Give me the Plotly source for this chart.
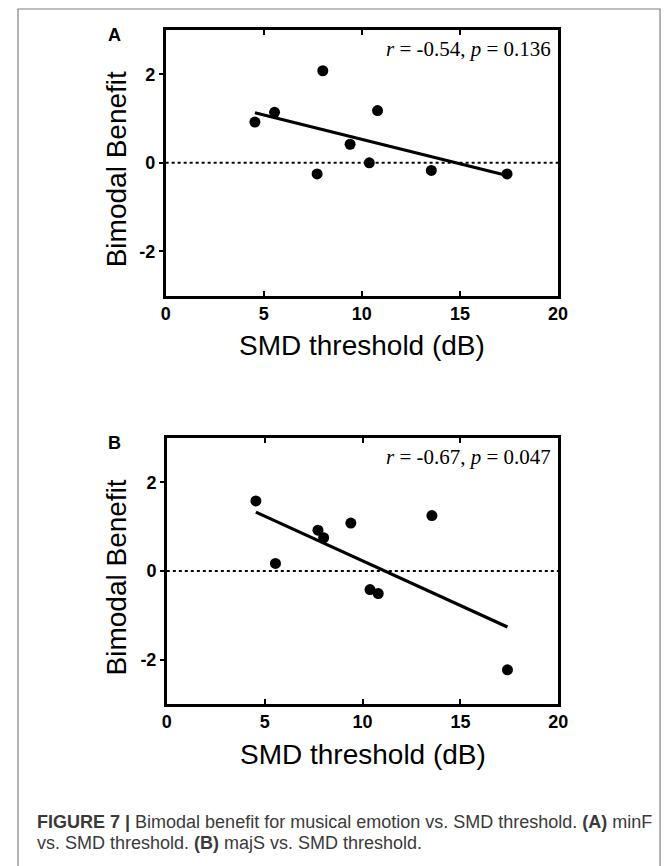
import numpy as np
import plotly.graph_objects as go

# SMD threshold (dB) per listener and bimodal benefit for two emotion conditions
smd_threshold = [4.55, 5.55, 7.72, 8.01, 9.40, 10.38, 10.80, 13.54, 17.40]
benefit_minF = [0.92, 1.14, -0.25, 2.08, 0.42, 0.00, 1.18, -0.17, -0.25]
benefit_majS = [1.58, 0.17, 0.92, 0.75, 1.08, -0.42, -0.51, 1.25, -2.23]

panel_letters = ["A", "B"]
stats_text = ["<i>r</i> = -0.54, <i>p</i> = 0.136", "<i>r</i> = -0.67, <i>p</i> = 0.047"]
x_ticks = [0, 5, 10, 15, 20]
x_tick_text = ["0", "5", "10", "15", "20"]
y_ticks = [-2, 0, 2]
y_tick_text = ["-2", "0", "2"]

W, H = 672, 866
SANS = "Liberation Sans, Arial, sans-serif"
SERIF = "Liberation Serif, Times New Roman, serif"

# panel boxes in pixels: (left, right, top, bottom)
boxes = [(164.3, 565.7, 30.0, 295.7), (165.5, 566.0, 438.0, 704.0)]


def px_x(v):
    return v / W


def px_y(v):
    return 1 - v / H


def bold(labels):
    return [f"<b>{s}</b>" for s in labels]


fig = go.Figure()
series = [benefit_minF, benefit_majS]
axes = {}

for i, (yvals, box) in enumerate(zip(series, boxes)):
    l, r, t, b = box
    xa = "x" if i == 0 else f"x{i + 1}"
    ya = "y" if i == 0 else f"y{i * 2 + 1}"
    xa_key = "xaxis" if i == 0 else f"xaxis{i + 1}"
    ya_key = "yaxis" if i == 0 else f"yaxis{i * 2 + 1}"
    ya_right_key = f"yaxis{i * 2 + 2}"

    x = np.array(smd_threshold)
    y = np.array(yvals)
    slope, intercept = np.polyfit(x, y, 1)
    xl = np.array([x.min(), x.max()])

    fig.add_trace(go.Scatter(x=[0, 20], y=[0, 0], mode="lines",
                             line=dict(color="black", width=2, dash="dot"),
                             xaxis=xa, yaxis=ya, showlegend=False, hoverinfo="skip"))
    fig.add_trace(go.Scatter(x=xl, y=slope * xl + intercept, mode="lines",
                             line=dict(color="black", width=3.2),
                             xaxis=xa, yaxis=ya, showlegend=False))
    fig.add_trace(go.Scatter(x=x, y=y, mode="markers",
                             marker=dict(color="black", size=11),
                             xaxis=xa, yaxis=ya, showlegend=False))

    tick_font = dict(family=SANS, size=18, color="black")
    axes[xa_key] = dict(
        domain=[px_x(l), px_x(r)], anchor=ya, range=[0, 20],
        tickmode="array", tickvals=x_ticks, ticktext=bold(x_tick_text),
        ticks="inside", ticklen=5, tickwidth=2, tickcolor="black",
        showline=True, linewidth=2.6, linecolor="black", mirror="ticks",
        showgrid=False, zeroline=False, tickfont=tick_font,
    )
    axes[ya_key] = dict(
        domain=[px_y(b), px_y(t)], anchor=xa, range=[-3, 3],
        tickmode="array", tickvals=y_ticks, ticktext=bold(y_tick_text),
        ticks="outside", ticklen=4, tickwidth=2, tickcolor="black",
        showline=True, linewidth=2.6, linecolor="black", mirror=True,
        showgrid=False, zeroline=False, tickfont=tick_font,
    )
    # right-hand tick marks pointing into the plot
    axes[ya_right_key] = dict(
        overlaying=ya, anchor=xa, side="right", range=[-3, 3],
        tickmode="array", tickvals=y_ticks, ticks="inside", ticklen=5, tickwidth=2,
        tickcolor="black", showticklabels=False, showline=False, showgrid=False,
        zeroline=False,
    )

    # axis titles
    fig.add_annotation(x=px_x((l + r) / 2), y=px_y(b + 50), xref="paper", yref="paper",
                       text="SMD threshold (dB)", showarrow=False,
                       font=dict(family=SANS, size=28, color="black"),
                       xanchor="center", yanchor="middle")
    fig.add_annotation(x=px_x(114), y=px_y((t + b) / 2 + 6), xref="paper", yref="paper",
                       text="Bimodal Benefit", showarrow=False, textangle=-90,
                       font=dict(family=SANS, size=28, color="black"),
                       xanchor="center", yanchor="middle")
    # panel letter
    fig.add_annotation(x=px_x(112.5), y=px_y(t + 5), xref="paper", yref="paper",
                       text=f"<b>{panel_letters[i]}</b>", showarrow=False,
                       font=dict(family=SANS, size=18, color="black"),
                       xanchor="center", yanchor="middle")
    # correlation statistics
    fig.add_annotation(x=px_x(r - 5), y=px_y(t + 19), xref="paper", yref="paper",
                       text=stats_text[i], showarrow=False,
                       font=dict(family=SERIF, size=21, color="black"),
                       xanchor="right", yanchor="middle")

# caption
fig.add_annotation(x=px_x(31), y=px_y(822), xref="paper", yref="paper",
                   text="<b>FIGURE 7 |</b> Bimodal benefit for musical emotion vs. SMD threshold. <b>(A)</b> minF",
                   showarrow=False, font=dict(family=SANS, size=18, color="#3a3a3a"),
                   xanchor="left", yanchor="middle")
fig.add_annotation(x=px_x(31), y=px_y(843), xref="paper", yref="paper",
                   text="vs. SMD threshold. <b>(B)</b> majS vs. SMD threshold.",
                   showarrow=False, font=dict(family=SANS, size=18, color="#3a3a3a"),
                   xanchor="left", yanchor="middle")

# outer frame of the figure
fig.add_shape(type="rect", xref="paper", yref="paper",
              x0=px_x(13.3), x1=px_x(670), y0=-0.02, y1=px_y(9),
              line=dict(color="#808080", width=1.2), fillcolor="rgba(0,0,0,0)", layer="below")

fig.update_layout(
    width=W, height=H, margin=dict(l=0, r=0, t=0, b=0),
    paper_bgcolor="white", plot_bgcolor="white",
    showlegend=False, **axes,
)

fig.write_html("out.html")
